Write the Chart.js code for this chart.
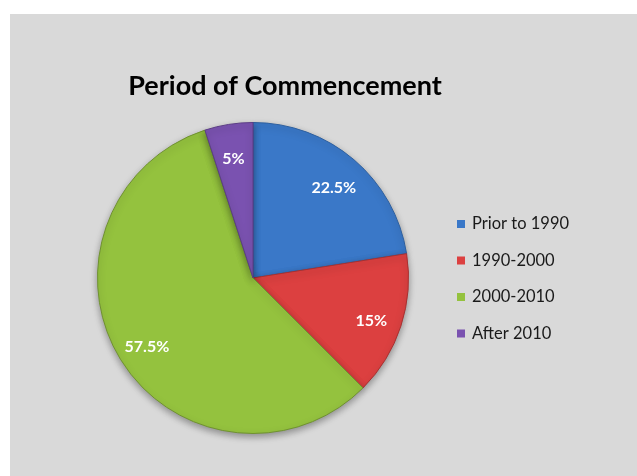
<!DOCTYPE html>
<html>
<head>
<meta charset="utf-8">
<script src="https://cdn.jsdelivr.net/npm/chart.js@4"></script>
<style>
  html, body { margin: 0; padding: 0; background: #ffffff; }
  #wrap { position: absolute; left: 10px; top: 14px; width: 627px; height: 462px; background: #d9d9d9; }
</style>
</head>
<body>
<div id="wrap"><canvas id="pie-canvas"></canvas></div>
<script>
const titleText = 'Period of Commencement';
const periods = ['Prior to 1990', '1990-2000', '2000-2010', 'After 2010'];
const shares = [22.5, 15, 57.5, 5];
const sliceColors = ['#3a78c8', '#dc4040', '#94c23e', '#7a52b0'];
const sliceBorders = ['#2d5f9e', '#a83030', '#6f9130', '#5b3d85'];

// title, legend and percent labels drawn by hand so they sit where the original has them
const decorations = {
  id: 'decorations',
  beforeDatasetsDraw(chart) {
    const ctx = chart.ctx;
    ctx.save();
    ctx.shadowColor = 'rgba(0,0,0,0.35)';
    ctx.shadowBlur = 7;
    ctx.shadowOffsetY = 3;
  },
  afterDatasetsDraw(chart) {
    const ctx = chart.ctx;
    ctx.restore();

    // percent labels
    const meta = chart.getDatasetMeta(0);
    ctx.save();
    ctx.fillStyle = '#ffffff';
    ctx.font = 'bold 16px Lato, "Open Sans", sans-serif';
    ctx.textAlign = 'center';
    ctx.textBaseline = 'middle';
    meta.data.forEach((arc, i) => {
      const mid = (arc.startAngle + arc.endAngle) / 2;
      const r = arc.outerRadius * 0.8;
      ctx.fillText(shares[i] + '%', arc.x + Math.cos(mid) * r, arc.y + Math.sin(mid) * r + 4);
    });
    ctx.restore();
  },
  afterDraw(chart) {
    const ctx = chart.ctx;
    ctx.save();
    ctx.fillStyle = '#000000';
    ctx.font = 'bold 27px Lato, "Open Sans", sans-serif';
    ctx.textAlign = 'center';
    ctx.textBaseline = 'alphabetic';
    ctx.fillText(titleText, 275, 81);

    ctx.font = '16.5px Lato, "Open Sans", sans-serif';
    ctx.textAlign = 'left';
    ctx.textBaseline = 'middle';
    periods.forEach((p, i) => {
      const y = 210 + i * 36.5;
      ctx.fillStyle = sliceColors[i];
      ctx.fillRect(447, y - 4, 8, 8);
      ctx.fillStyle = '#1a1a1a';
      ctx.fillText(p, 462, y);
    });
    ctx.restore();
  }
};

const ctx = document.getElementById('pie-canvas').getContext('2d');
const myChart = new Chart(ctx, {
  type: 'pie',
  data: {
    labels: periods,
    datasets: [{
      data: shares,
      backgroundColor: sliceColors,
      borderColor: sliceBorders,
      borderWidth: 1
    }]
  },
  options: {
    responsive: true,
    maintainAspectRatio: false,
    animation: false,
    layout: { padding: { top: 108, bottom: 42, left: 87, right: 228 } },
    plugins: {
      legend: { display: false },
      title: { display: false },
      tooltip: { enabled: false }
    }
  },
  plugins: [decorations]
});
</script>
</body>
</html>
